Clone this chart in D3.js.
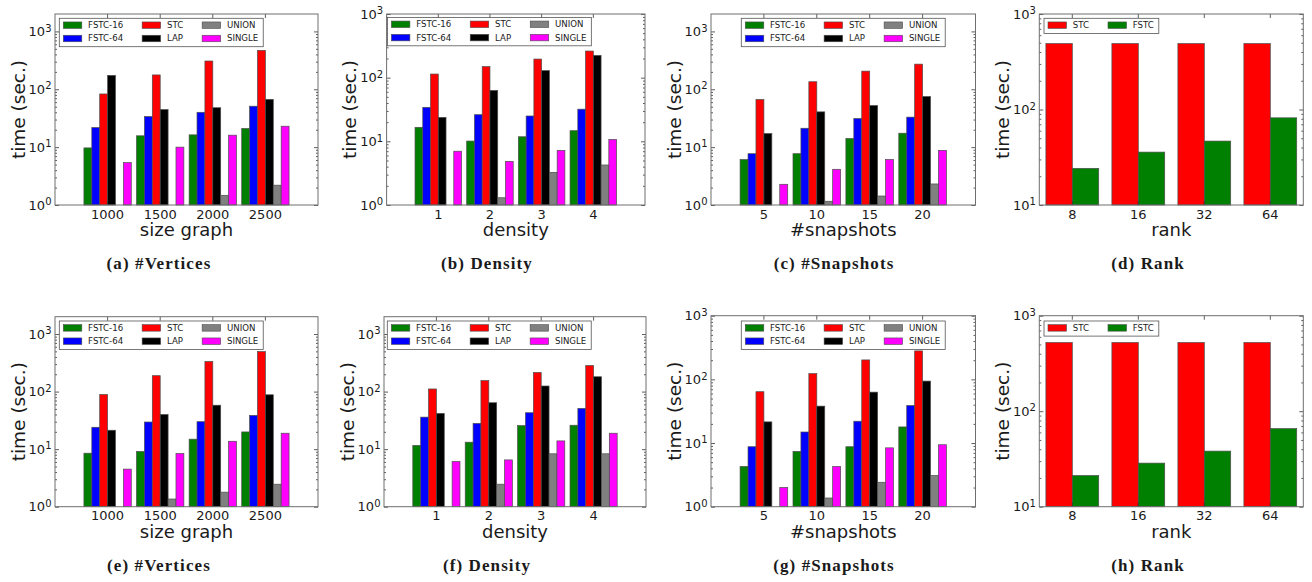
<!DOCTYPE html>
<html>
<head>
<meta charset="utf-8">
<script src="https://cdn.jsdelivr.net/npm/d3@7"></script>
<style>
body { margin: 0; background: #fff; }
text { font-family: "DejaVu Sans", sans-serif; fill: #1a1a1a; }
.caption { font-family: "Liberation Serif", serif; font-weight: bold; font-size: 17px; letter-spacing: 1.1px; }
</style>
</head>
<body>
<svg id="fig" width="1312" height="582"></svg>
<script>
// series names
const methods = ["FSTC-16", "FSTC-64", "STC", "LAP", "UNION", "SINGLE"];
const rankMethods = ["STC", "FSTC"];

// categories
const vertexSizes = ["1000", "1500", "2000", "2500"];
const densities = ["1", "2", "3", "4"];
const snapshots = ["5", "10", "15", "20"];
const ranks = ["8", "16", "32", "64"];

// time (sec.) per method, one row per method (0 = no bar)
const verticesTop = [
    [9.7, 15.7, 16.3, 21],
    [21.8, 33.8, 40, 51],
    [83, 177, 308, 470],
    [174, 44.6, 48, 67],
    [0, 0, 1.47, 2.2],
    [5.4, 10, 16.1, 23]
];
const densityTop = [
    [16.6, 10.1, 11.8, 14.7],
    [34.2, 26.2, 25, 32],
    [114, 149, 196, 262],
    [23.8, 63, 129, 224],
    [0, 1.3, 3.26, 4.25],
    [7.0, 4.85, 7.2, 10.7]
];
const snapshotsTop = [
    [6.1, 7.7, 14.1, 17.4],
    [7.7, 21.2, 31.2, 33],
    [66.6, 135, 206, 272],
    [17.2, 40.7, 52.4, 75],
    [0, 1.16, 1.43, 2.31],
    [2.28, 4.14, 6.1, 8.8]
];
const rankTop = [
    [490, 490, 490, 490],
    [24.2, 35.8, 46.7, 81.8]
];
const verticesBottom = [
    [8.5, 9.1, 14.9, 19.9],
    [24, 29.6, 30, 38.6],
    [89, 189, 333, 496],
    [21.3, 40, 58, 88],
    [0, 1.36, 1.79, 2.46],
    [4.5, 8.4, 13.7, 18.9]
];
const densityBottom = [
    [11.6, 13.2, 25.6, 26],
    [36, 28, 42.9, 51],
    [111, 155, 215, 284],
    [41.8, 64, 125, 181],
    [0, 2.46, 8.3, 8.3],
    [6.1, 6.5, 13.9, 18.9]
];
const snapshotsBottom = [
    [4.28, 7.4, 8.75, 17.9],
    [8.75, 14.9, 22, 38.8],
    [64, 123, 202, 280],
    [21.5, 38, 63, 94],
    [0, 1.37, 2.42, 3.09],
    [2.0, 4.28, 8.4, 9.4]
];
const rankBottom = [
    [524, 524, 524, 524],
    [21.2, 28.6, 38.2, 65.7]
];

const colors = {
    "FSTC-16": "#008000", "FSTC-64": "#0000ff", "STC": "#ff0000",
    "LAP": "#000000", "UNION": "#808080", "SINGLE": "#ff00ff", "FSTC": "#008000"
};

// panel layout: frame box [x, y, w, h], legend offset, caption position
const panels = [
    { cats: vertexSizes, names: methods, values: verticesTop, xlabel: "size graph", caption: "(a) #Vertices",
      yMin: 1, yMax: 2000, box: [55, 14, 263, 191], legend: [4.3, 4.3], cap: [159, 269] },
    { cats: densities, names: methods, values: densityTop, xlabel: "density", caption: "(b) Density",
      yMin: 1, yMax: 1000, box: [386.6, 14, 258.4, 191], legend: [0.8, 3.4], cap: [487, 269] },
    { cats: snapshots, names: methods, values: snapshotsTop, xlabel: "#snapshots", caption: "(c) #Snapshots",
      yMin: 1, yMax: 2000, box: [711, 14, 264.5, 191], legend: ["center", 4.3], cap: [834, 269] },
    { cats: ranks, names: rankMethods, values: rankTop, xlabel: "rank", caption: "(d) Rank",
      yMin: 10, yMax: 1000, box: [1039.3, 14, 264, 191], legend: [4.7, 4.3], cap: [1148, 269] },
    { cats: vertexSizes, names: methods, values: verticesBottom, xlabel: "size graph", caption: "(e) #Vertices",
      yMin: 1, yMax: 2000, box: [55, 316.7, 263, 190], legend: [4.3, 4.3], cap: [159, 571] },
    { cats: densities, names: methods, values: densityBottom, xlabel: "density", caption: "(f) Density",
      yMin: 1, yMax: 2000, box: [384, 316.7, 262, 190], legend: [3.3, 4.3], cap: [487, 571] },
    { cats: snapshots, names: methods, values: snapshotsBottom, xlabel: "#snapshots", caption: "(g) #Snapshots",
      yMin: 1, yMax: 1000, box: [711, 315.7, 264.5, 191], legend: ["center", 5.3], cap: [834, 571] },
    { cats: ranks, names: rankMethods, values: rankBottom, xlabel: "rank", caption: "(h) Rank",
      yMin: 10, yMax: 1000, box: [1039.3, 315.7, 264, 191], legend: [4.7, 5.3], cap: [1148, 571] }
];

const svg = d3.select("#fig");

panels.forEach(function(p) {
    const bx = p.box[0], by = p.box[1], bw = p.box[2], bh = p.box[3];
    const six = p.names.length > 2;

    const g = svg.append("g").attr("transform", `translate(${bx},${by})`);

    // scales
    const x = d3.scaleBand()
        .domain(p.cats)
        .range([0, bw])
        .paddingInner(six ? 0.1 : 0.2)
        .paddingOuter(six ? 0.55 : 0.1);
    const xs = d3.scaleBand()
        .domain(p.names)
        .range([0, x.bandwidth()]);
    const y = d3.scaleLog()
        .domain([p.yMin, p.yMax])
        .range([bh, 0]);

    // bars
    p.names.forEach(function(name, si) {
        const rows = p.values[si]
            .map(function(v, i) { return { cat: p.cats[i], v: v }; })
            .filter(function(d) { return d.v > 0; });
        g.selectAll(null)
            .data(rows)
            .enter()
            .append("rect")
            .attr("x", function(d) { return x(d.cat) + xs(name); })
            .attr("y", function(d) { return y(d.v); })
            .attr("width", xs.bandwidth())
            .attr("height", function(d) { return bh - y(d.v); })
            .attr("fill", colors[name])
            .attr("stroke", "#4d4d4d")
            .attr("stroke-width", 0.7);
    });

    // log ticks
    const kMin = Math.round(Math.log10(p.yMin));
    const kMax = Math.floor(Math.log10(p.yMax) + 1e-9);
    const majors = d3.range(kMin, kMax + 1).map(function(k) { return Math.pow(10, k); });
    const minors = [];
    for (let k = kMin; k <= kMax; k++) {
        for (let m = 2; m <= 9; m++) {
            const v = m * Math.pow(10, k);
            if (v < p.yMax) minors.push(v);
        }
    }

    function clean(sel) {
        sel.select(".domain").remove();
        sel.attr("color", "#333").selectAll("line").attr("stroke-width", 0.8);
    }

    g.append("g").call(d3.axisLeft(y).tickValues(majors).tickSize(-4).tickFormat("")).call(clean);
    g.append("g").call(d3.axisLeft(y).tickValues(minors).tickSize(-2).tickFormat("")).call(clean);
    g.append("g").attr("transform", `translate(${bw},0)`)
        .call(d3.axisRight(y).tickValues(majors).tickSize(-4).tickFormat("")).call(clean);
    g.append("g").attr("transform", `translate(${bw},0)`)
        .call(d3.axisRight(y).tickValues(minors).tickSize(-2).tickFormat("")).call(clean);

    // y tick labels with superscript exponent
    g.selectAll(".ylab")
        .data(majors)
        .enter()
        .append("text")
        .attr("class", "ylab")
        .attr("x", -3.5)
        .attr("y", function(d) { return y(d) + 4.7; })
        .attr("text-anchor", "end")
        .attr("font-size", "13px")
        .each(function(d) {
            const t = d3.select(this);
            t.append("tspan").text("10");
            t.append("tspan")
                .attr("dy", "-0.45em")
                .attr("font-size", "10px")
                .text(Math.round(Math.log10(d)));
        });

    // x axes (bottom with labels, top ticks only)
    g.append("g")
        .attr("transform", `translate(0,${bh})`)
        .call(d3.axisBottom(x).tickSize(-4).tickPadding(4.4))
        .call(clean)
        .attr("font-size", 13)
        .attr("font-family", null);
    g.append("g")
        .call(d3.axisTop(x).tickSize(-4).tickFormat(""))
        .call(clean);

    // frame
    g.append("rect")
        .attr("width", bw)
        .attr("height", bh)
        .attr("fill", "none")
        .attr("stroke", "#6e6e6e")
        .attr("stroke-width", 1);

    // axis labels
    g.append("text")
        .attr("x", bw / 2)
        .attr("y", bh + 31)
        .attr("text-anchor", "middle")
        .attr("font-size", "18px")
        .text(p.xlabel);
    g.append("text")
        .attr("transform", `translate(-37,${bh / 2}) rotate(-90)`)
        .attr("text-anchor", "middle")
        .attr("dominant-baseline", "central")
        .attr("font-size", "18.5px")
        .text("time (sec.)");

    // legend
    const nRows = six ? 2 : 1;
    const nCols = Math.ceil(p.names.length / nRows);
    const lg = g.append("g");
    const box = lg.append("rect")
        .attr("fill", "#fff")
        .attr("stroke", "#555")
        .attr("stroke-width", 0.8);
    const labels = lg.selectAll(".lab")
        .data(p.names)
        .enter()
        .append("text")
        .attr("font-size", "8.6px")
        .attr("dominant-baseline", "central")
        .text(function(d) { return d; });
    const widths = [];
    labels.each(function(d, i) {
        const c = Math.floor(i / nRows);
        widths[c] = Math.max(widths[c] || 0, this.getComputedTextLength());
    });
    const colX = [4];
    for (let c = 1; c < nCols; c++) colX[c] = colX[c - 1] + 24.8 + widths[c - 1] + 19;
    const boxW = colX[nCols - 1] + 24.8 + widths[nCols - 1] + 5;
    const boxH = nRows * 13.3 + 1.8;
    box.attr("width", boxW).attr("height", boxH);

    lg.selectAll(".sw")
        .data(p.names)
        .enter()
        .append("rect")
        .attr("x", function(d, i) { return colX[Math.floor(i / nRows)]; })
        .attr("y", function(d, i) { return 6.9 + (i % nRows) * 13.3 - 3.25; })
        .attr("width", 18.5)
        .attr("height", 6.5)
        .attr("fill", function(d) { return colors[d]; })
        .attr("stroke", "#4d4d4d")
        .attr("stroke-width", 0.6);
    labels
        .attr("x", function(d, i) { return colX[Math.floor(i / nRows)] + 24.8; })
        .attr("y", function(d, i) { return 6.9 + (i % nRows) * 13.3; });

    const lx = p.legend[0] === "center" ? (bw - boxW) / 2 : p.legend[0];
    lg.attr("transform", `translate(${lx},${p.legend[1]})`);

    // caption
    svg.append("text")
        .attr("class", "caption")
        .attr("x", p.cap[0])
        .attr("y", p.cap[1])
        .attr("text-anchor", "middle")
        .text(p.caption);
});
</script>
</body>
</html>
